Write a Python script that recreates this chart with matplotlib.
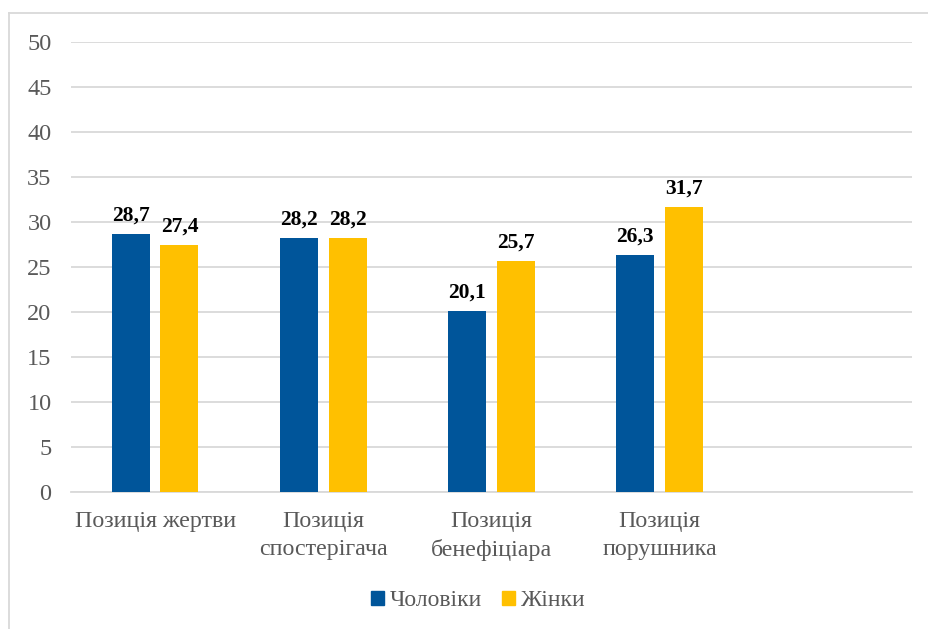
import numpy as np
import matplotlib.pyplot as plt
from matplotlib.lines import Line2D
from matplotlib.patches import Patch

# data
categories = ["Позиція жертви", "Позиція\nспостерігача", "Позиція\nбенефіціара", "Позиція\nпорушника", ""]
men = [28.7, 28.2, 20.1, 26.3]
women = [27.4, 28.2, 25.7, 31.7]
series_names = ["Чоловіки", "Жінки"]

BLUE = "#00559A"
GOLD = "#FFC000"
GREY = "#595959"

plt.rcParams['font.family'] = 'serif'
plt.rcParams['font.serif'] = ['Liberation Serif', 'Times New Roman', 'DejaVu Serif']

fig = plt.figure(figsize=(9.29, 6.29), dpi=100)
ax = fig.add_axes([71 / 929, 1 - 492 / 629, (912 - 71) / 929, (492 - 42) / 629])

x = np.arange(len(men))
w = 0.226
off = 0.145
b1 = ax.bar(x - off, men, w, color=BLUE, zorder=3)
b2 = ax.bar(x + off, women, w, color=GOLD, zorder=3)

for bars, vals in ((b1, men), (b2, women)):
    for rect, v in zip(bars, vals):
        ax.annotate(f"{v:.1f}".replace(".", ","),
                    (rect.get_x() + rect.get_width() / 2, v),
                    xytext=(0, 6), textcoords="offset points",
                    ha="center", va="bottom", fontsize=15.5, fontweight="bold", color="black")

ax.set_xlim(-0.5, len(categories) - 0.5)
ax.set_ylim(0, 50)
ax.set_yticks(np.arange(0, 51, 5))
ax.set_xticks(np.arange(len(categories)))
ax.set_xticklabels(categories, linespacing=1.4, fontsize=17.3)
ax.grid(axis="y", color="#D9D9D9", linewidth=1.3, zorder=0)
ax.tick_params(axis="both", length=0, colors=GREY)
ax.tick_params(axis="y", pad=14, labelsize=17.5)
ax.tick_params(axis="x", pad=14)
for s in ["top", "right", "left"]:
    ax.spines[s].set_visible(False)
ax.spines["bottom"].set_color("#D9D9D9")
ax.spines["bottom"].set_linewidth(1.3)

handles = [Patch(color=BLUE), Patch(color=GOLD)]
fig.legend(handles, series_names, loc="center", bbox_to_anchor=(478 / 929, 1 - 601 / 629),
           ncol=2, frameon=False, fontsize=17, labelcolor=GREY,
           handlelength=0.55, handleheight=0.55, handletextpad=0.25, columnspacing=0.85)

# outer chart frame (top and left edges)
fig.add_artist(Line2D([9 / 929, 1], [1 - 13 / 629, 1 - 13 / 629], transform=fig.transFigure,
                      color="#D9D9D9", linewidth=1.3))
fig.add_artist(Line2D([9 / 929, 9 / 929], [0, 1 - 13 / 629], transform=fig.transFigure,
                      color="#D9D9D9", linewidth=1.3))

fig.savefig("out.png", dpi=100)
